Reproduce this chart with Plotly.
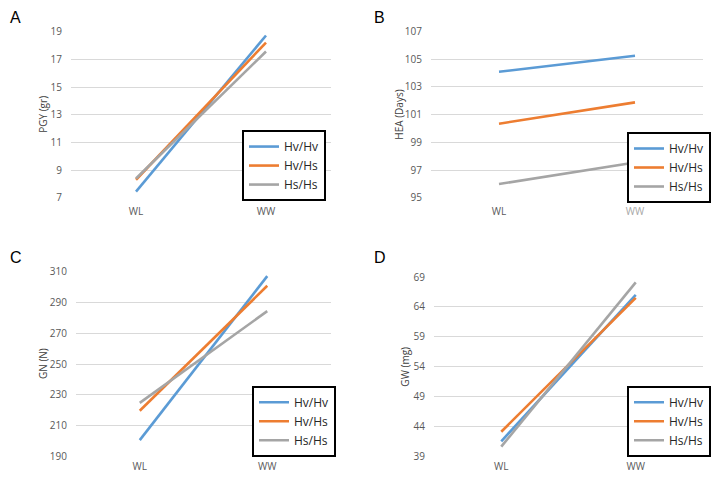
import plotly.graph_objects as go

categories = ["WL", "WW"]
series_names = ["Hv/Hv", "Hv/Hs", "Hs/Hs"]
colors = ["#5B9BD5", "#ED7D31", "#A5A5A5"]

pgy = {"Hv/Hv": [7.45, 18.73], "Hv/Hs": [8.31, 18.22], "Hs/Hs": [8.4, 17.57]}
hea = {"Hv/Hv": [104.1, 105.25], "Hv/Hs": [100.35, 101.89], "Hs/Hs": [96.0, 97.55]}
gn = {"Hv/Hv": [200.5, 307.2], "Hv/Hs": [219.6, 300.9], "Hs/Hs": [224.7, 284.4]}
gw = {"Hv/Hv": [41.5, 66.0], "Hv/Hs": [43.1, 65.5], "Hs/Hs": [40.6, 68.1]}

pgy_ticks = [7, 9, 11, 13, 15, 17, 19]
hea_ticks = [95, 97, 99, 101, 103, 105, 107]
gn_ticks = [190, 210, 230, 250, 270, 290, 310]
gw_ticks = [39, 44, 49, 54, 59, 64, 69]

panel_letters = ["A", "B", "C", "D"]
axis_titles = ["PGY (gr)", "HEA (Days)", "GN (N)", "GW (mg)"]
x_ticktexts = [
    ["WL", "WW"],
    ["WL", "<span style='color:#a6a6a6'>WW</span>"],
    ["WL", "WW"],
    ["WL", "WW"],
]

W, H = 713, 480
panels = [
    # data, ticks, x0, x1, ytop, ybot, legend right, legend top, title x, letter pos, x-label standoff
    (pgy, pgy_ticks, 71, 331, 24.5, 196, 326, 126, 43, (8, 10), 6),
    (hea, hea_ticks, 431, 703, 24.3, 196, 711, 128, 399, (372, 10), 6),
    (gn, gn_ticks, 76, 331, 272.3, 462.7, 336, 390, 43, (8, 258), 3),
    (gw, gw_ticks, 434, 703, 277.7, 462.7, 711, 390, 405, (372, 258), 3),
]

fig = go.Figure()
tick_font = dict(family="Open Sans, sans-serif", size=10, color="#595959")
annotations = []
for i, (data, ticks, x0, x1, yt, yb, lr, lt, tx, lp, xs) in enumerate(panels):
    n = i + 1
    xa = "x" if n == 1 else f"x{n}"
    ya = "y" if n == 1 else f"y{n}"
    lg = "legend" if n == 1 else f"legend{n}"
    for name, c in zip(series_names, colors):
        fig.add_trace(go.Scatter(
            x=categories, y=data[name], mode="lines", name=name,
            line=dict(color=c, width=2.6), xaxis=xa, yaxis=ya, legend=lg,
            hoverinfo="skip",
        ))
    xkey = "xaxis" if n == 1 else f"xaxis{n}"
    ykey = "yaxis" if n == 1 else f"yaxis{n}"
    fig.layout[xkey] = dict(
        domain=[x0 / W, x1 / W], anchor=ya, type="category",
        range=[-0.5, 1.5], showgrid=False, showline=False, zeroline=False,
        tickmode="array", tickvals=categories, ticktext=x_ticktexts[i],
        tickfont=tick_font, ticks="", ticklabelstandoff=xs, fixedrange=True,
    )
    fig.layout[ykey] = dict(
        domain=[1 - yb / H, 1 - yt / H], anchor=xa,
        range=[ticks[0], ticks[-1]], tickvals=ticks,
        showgrid=True, gridcolor="#D9D9D9", gridwidth=1,
        showline=False, zeroline=False, tickfont=tick_font,
        ticks="", ticklabelstandoff=8, fixedrange=True,
    )
    fig.layout[lg] = dict(
        x=lr / W, y=1 - lt / H, xanchor="right", yanchor="top",
        bgcolor="white", bordercolor="black", borderwidth=2,
        font=dict(family="Open Sans, sans-serif", size=12, color="#262626"),
        itemwidth=30, tracegroupgap=0,
    )
    annotations.append(dict(
        text=axis_titles[i], x=tx / W, y=1 - (yt + yb) / 2 / H,
        xref="paper", yref="paper", textangle=-90, showarrow=False,
        font=dict(family="Open Sans, sans-serif", size=10, color="#404040"),
        xanchor="center", yanchor="middle",
    ))
    annotations.append(dict(
        text=panel_letters[i], x=lp[0] / W, y=1 - lp[1] / H,
        xref="paper", yref="paper", showarrow=False,
        font=dict(family="Liberation Sans, Arial, sans-serif", size=16, color="black"),
        xanchor="left", yanchor="middle",
    ))

fig.update_layout(
    width=W, height=H, margin=dict(l=0, r=0, t=0, b=0),
    paper_bgcolor="white", plot_bgcolor="white",
    annotations=annotations, showlegend=True, hovermode=False,
)
fig.write_html(
    "out.html",
    config={"displayModeBar": False},
    post_script="document.body.style.margin='0';document.body.style.overflow='hidden';",
)
